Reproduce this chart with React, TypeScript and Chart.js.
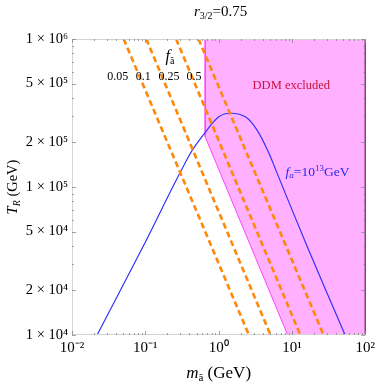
import React, { useEffect, useRef } from "react";
import { Chart, registerables } from "chart.js";
Chart.register(...registerables);

// ---- data ----
const xTickValues = [0.01, 0.1, 1, 10, 100];
const xTickLabels = ["10⁻²", "10⁻¹", "10⁰", "10¹", "10²"];
const yTickValues = [1e4, 2e4, 5e4, 1e5, 2e5, 5e5, 1e6];
const yTickLabels = ["1 × 10⁴", "2 × 10⁴", "5 × 10⁴", "1 × 10⁵", "2 × 10⁵", "5 × 10⁵", "1 × 10⁶"];

const fLabels = ["0.05", "0.1", "0.25", "0.5"];
const orangeTopMass = [0.0507, 0.103, 0.263, 0.532];
const orangeBottomMass = [2.59, 5.1, 13.0, 27.0];
const orangeT = [1e6, 1e4];

const blueMass = [0.022, 0.0881, 0.398, 0.67, 1.016, 1.464, 2.34, 3.33, 4.84, 6.03, 16.9, 53.1];
const blueT = [1e4, 3.75e4, 1.64e5, 2.37e5, 2.99e5, 3.15e5, 2.97e5, 2.43e5, 1.7e5, 1.3e5, 3.75e4, 1e4];

// DDM excluded region: lower-left boundary, filled up to the top of the plot
const ddmMass = [0.656, 0.656, 8.75, 100];
const ddmT = [1e6, 2.18e5, 1e4, 1e4];
const ddmEdgeMass = [0.656, 0.656, 8.75];
const ddmEdgeT = [1e6, 2.18e5, 1e4];
const rightEdgeMass = [100, 100];
const rightEdgeT = [1e4, 1e6];

const SERIF = '"Liberation Serif", "Times New Roman", serif';

type Part = { t: string; s: number; i?: boolean; dy?: number; c?: string };

function fontOf(p: Part) {
  return `${p.i ? "italic " : ""}${p.s}px ${SERIF}`;
}

function drawRich(ctx: CanvasRenderingContext2D, parts: Part[], x: number, y: number, align: "left" | "center" | "right", color: string) {
  let w = 0;
  for (const p of parts) {
    ctx.font = fontOf(p);
    w += ctx.measureText(p.t).width;
  }
  let cx = align === "center" ? x - w / 2 : align === "right" ? x - w : x;
  ctx.textAlign = "left";
  ctx.textBaseline = "alphabetic";
  for (const p of parts) {
    ctx.font = fontOf(p);
    ctx.fillStyle = p.c || color;
    ctx.fillText(p.t, cx, y + (p.dy || 0));
    cx += ctx.measureText(p.t).width;
  }
}

const framePlugin = {
  id: "framePlugin",
  afterDatasetsDraw(chart: any) {
    const ctx: CanvasRenderingContext2D = chart.ctx;
    const { left, right, top, bottom } = chart.chartArea;
    const xs = chart.scales.x;
    const ys = chart.scales.y;
    ctx.save();
    ctx.strokeStyle = "#d4d4d4";
    ctx.lineWidth = 1;
    ctx.beginPath();
    ctx.moveTo(left + 0.5, bottom);
    ctx.lineTo(left + 0.5, top + 0.5);
    ctx.lineTo(right, top + 0.5);
    ctx.moveTo(left, bottom - 0.5);
    ctx.lineTo(right, bottom - 0.5);
    ctx.stroke();
    ctx.strokeStyle = "#8a8a8a";
    ctx.lineWidth = 0.8;
    ctx.beginPath();
    for (let d = -2; d <= 2; d++) {
      for (let k = 1; k <= 9; k++) {
        const v = k * Math.pow(10, d);
        if (v < 0.0099 || v > 100.1) continue;
        const px = Math.round(xs.getPixelForValue(v)) + 0.5;
        const len = k === 1 ? 4 : 2;
        ctx.moveTo(px, bottom);
        ctx.lineTo(px, bottom - len);
        ctx.moveTo(px, top);
        ctx.lineTo(px, top + len);
      }
    }
    for (let d = 4; d <= 6; d++) {
      for (let k = 1; k <= 9; k++) {
        const v = k * Math.pow(10, d);
        if (v < 9999 || v > 1000001) continue;
        const py = Math.round(ys.getPixelForValue(v)) + 0.5;
        const len = k === 1 || k === 2 || k === 5 ? 4 : 2;
        ctx.moveTo(left, py);
        ctx.lineTo(left + len, py);
        ctx.moveTo(right, py);
        ctx.lineTo(right - len, py);
      }
    }
    ctx.stroke();
    ctx.restore();
  },
  afterDraw(chart: any) {
    const ctx: CanvasRenderingContext2D = chart.ctx;
    const xs = chart.scales.x;
    const ys = chart.scales.y;
    const { left, right, top, bottom } = chart.chartArea;
    ctx.save();
    // title
    drawRich(ctx, [
      { t: "r", s: 15, i: true },
      { t: "3/2", s: 10, dy: 3 },
      { t: "=0.75", s: 15 },
    ], (left + right) / 2 + 2, 16, "center", "#000");
    // y axis title
    ctx.save();
    ctx.translate(17, (top + bottom) / 2);
    ctx.rotate(-Math.PI / 2);
    drawRich(ctx, [
      { t: "T", s: 14.5, i: true },
      { t: "R", s: 10, i: true, dy: 3 },
      { t: " (GeV)", s: 14.5 },
    ], 0, 0, "center", "#000");
    ctx.restore();
    // x axis title
    drawRich(ctx, [
      { t: "m", s: 17, i: true },
      { t: "ã", s: 11, dy: 3 },
      { t: " (GeV)", s: 17 },
    ], (left + right) / 2, 378, "center", "#000");
    // f_a~ label
    drawRich(ctx, [
      { t: "f", s: 16, i: true },
      { t: "ã", s: 10, dy: 3 },
    ], 170, 61, "center", "#000");
    const fx = [0.042, 0.094, 0.21, 0.46];
    fLabels.forEach((lab, i) => {
      drawRich(ctx, [{ t: lab, s: 12 }], xs.getPixelForValue(fx[i]), 80, "center", "#000");
    });
    // DDM excluded
    drawRich(ctx, [{ t: "DDM excluded", s: 12.5 }], xs.getPixelForValue(9.8), ys.getPixelForValue(4.6e5), "center", "rgb(200,20,60)");
    // f_a = 10^13 GeV
    drawRich(ctx, [
      { t: "f", s: 13.5, i: true },
      { t: "a", s: 9, i: true, dy: 2 },
      { t: "=10", s: 13.5 },
      { t: "13", s: 9, dy: -5 },
      { t: "GeV", s: 13.5 },
    ], xs.getPixelForValue(8.2), ys.getPixelForValue(1.19e5), "left", "rgb(40,40,235)");
    ctx.restore();
  },
};

function pts(xs: number[], ys: number[]) {
  return xs.map((x, i) => ({ x, y: ys[i] }));
}

export default function App() {
  const ref = useRef<HTMLCanvasElement | null>(null);
  useEffect(() => {
    if (!ref.current) return;
    const orangeSets = orangeTopMass.map((m, i) => ({
      label: "f=" + fLabels[i],
      data: pts([m, orangeBottomMass[i]], orangeT),
      borderColor: "rgb(255,135,10)",
      borderWidth: 2.6,
      borderDash: [6, 3.5],
      pointRadius: 0,
      fill: false,
      order: 0,
    }));
    const chart = new Chart(ref.current, {
      type: "line",
      data: {
        datasets: [
          ...orangeSets,
          {
            label: "fa=1e13",
            data: pts(blueMass, blueT),
            borderColor: "rgb(50,50,255)",
            borderWidth: 1.2,
            pointRadius: 0,
            tension: 0.35,
            fill: false,
            order: 1,
          },
          {
            label: "DDM edge",
            data: pts(ddmEdgeMass, ddmEdgeT),
            borderColor: "rgb(255,70,255)",
            borderWidth: 1,
            pointRadius: 0,
            fill: false,
            order: 2,
          },
          {
            label: "right edge",
            data: pts(rightEdgeMass, rightEdgeT),
            borderColor: "rgb(150,50,150)",
            borderWidth: 1.5,
            pointRadius: 0,
            fill: false,
            clip: 3,
            order: 2,
          },
          {
            label: "DDM excluded",
            data: pts(ddmMass, ddmT),
            borderColor: "rgba(0,0,0,0)",
            backgroundColor: "rgb(255,176,255)",
            borderWidth: 0,
            pointRadius: 0,
            fill: "end",
            order: 3,
          },
        ] as any,
      },
      options: {
        animation: false,
        responsive: false,
        maintainAspectRatio: false,
        layout: { padding: { top: 39, right: 12, left: 0, bottom: 0 } },
        plugins: { legend: { display: false }, tooltip: { enabled: false }, title: { display: false } },
        scales: {
          x: {
            type: "logarithmic",
            min: 0.01,
            max: 100,
            grid: { display: false, drawTicks: false },
            border: { display: false },
            afterBuildTicks: (s: any) => {
              s.ticks = xTickValues.map((v) => ({ value: v }));
            },
            afterFit: (s: any) => {
              s.height = 47;
            },
            ticks: {
              autoSkip: false,
              maxRotation: 0,
              padding: 4,
              color: "#000",
              font: { family: SERIF, size: 15 },
              callback: (_v: any, i: number) => xTickLabels[i],
            },
          },
          y: {
            type: "logarithmic",
            min: 1e4,
            max: 1e6,
            grid: { display: false, drawTicks: false },
            border: { display: false },
            afterBuildTicks: (s: any) => {
              s.ticks = yTickValues.map((v) => ({ value: v }));
            },
            afterFit: (s: any) => {
              s.width = 72;
            },
            ticks: {
              autoSkip: false,
              padding: 4,
              color: "#000",
              font: { family: SERIF, size: 14.5 },
              callback: (_v: any, i: number) => yTickLabels[i],
            },
          },
        },
      } as any,
      plugins: [framePlugin],
    });
    return () => chart.destroy();
  }, []);
  return (
    <div style={{ position: "fixed", left: 0, top: 0, width: 379, height: 382, background: "#fff" }}>
      <canvas ref={ref} width={379} height={382} style={{ width: 379, height: 382, display: "block" }} />
    </div>
  );
}
